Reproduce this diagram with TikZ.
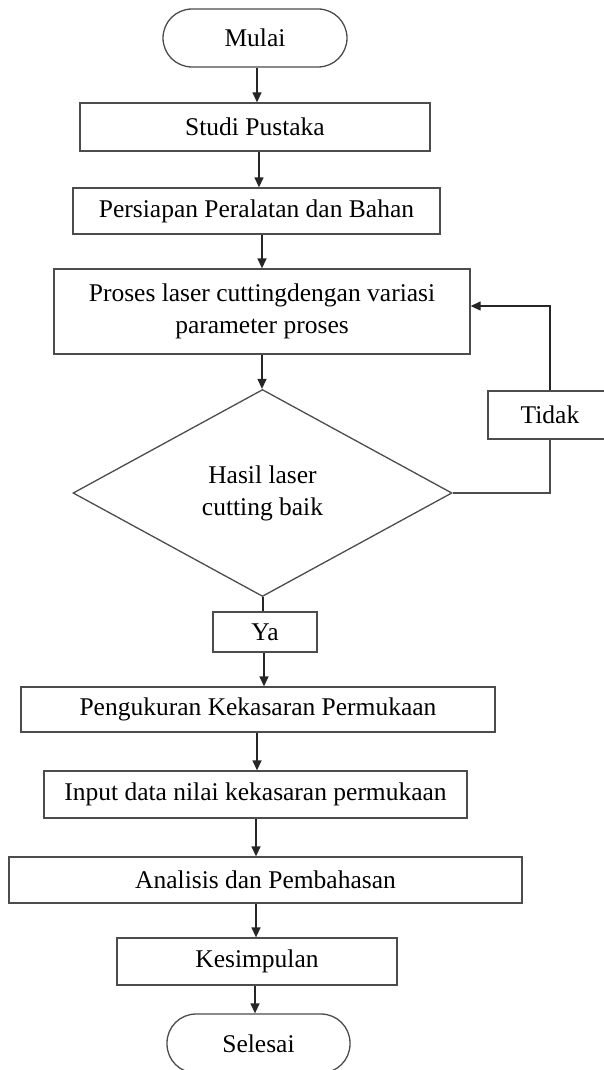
\documentclass[tikz,border=0pt]{standalone}
\usepackage{fontspec}
\setmainfont{Liberation Serif}
\usetikzlibrary{shapes.geometric,arrows.meta}
\tikzstyle{boite}=[rectangle, draw=black!70, line width=1.3pt, fill=white, inner sep=0pt, align=center, font=\fontsize{25.5}{32}\selectfont]
\tikzstyle{terminal}=[boite, rounded corners=29pt]
\tikzstyle{choix}=[boite, diamond, rounded corners=0pt]
\tikzstyle{lien}=[line width=1.3pt, draw=black!85]
\newcommand{\fl}[3]{ \draw[lien,->] ([xshift=#1pt]#2.south) -- ([xshift=#1pt]#2.south |- #3.north); }

\begin{document}
\begin{tikzpicture}[x=1pt,y=-1pt,>={Triangle[length=10pt,width=9pt]}]

 \useasboundingbox (0,0) rectangle (603,1070);

 \node[terminal,minimum width=184pt,minimum height=58pt] (mulai) at (255,38) {Mulai};
 \node[boite,minimum width=350pt,minimum height=48pt] (studi) at (255,127) {Studi Pustaka};
 \node[boite,minimum width=367pt,minimum height=46pt] (persiapan) at (256.5,211) {Persiapan Peralatan dan Bahan};
 \node[boite,minimum width=416pt,minimum height=85pt] (proses) at (262,311.5) {Proses laser cuttingdengan variasi\\parameter proses};
 \node[choix,minimum width=379pt,minimum height=207pt] (hasil) at (262.5,493) {Hasil laser\\cutting baik};
 \node[boite,minimum width=124pt,minimum height=48pt] (tidak) at (550,415) {Tidak};
 \node[boite,minimum width=104pt,minimum height=40pt] (ya) at (265,632) {Ya};
 \node[boite,minimum width=474pt,minimum height=45pt] (ukur) at (258,709.5) {Pengukuran Kekasaran Permukaan};
 \node[boite,minimum width=423pt,minimum height=47pt] (input) at (255.5,794.5) {Input data nilai kekasaran permukaan};
 \node[boite,minimum width=513pt,minimum height=46pt] (analisis) at (265.5,880) {Analisis dan Pembahasan};
 \node[boite,minimum width=280pt,minimum height=47pt] (kesimpulan) at (257,961.5) {Kesimpulan};
 \node[terminal,minimum width=183pt,minimum height=59pt] (selesai) at (258.5,1043.5) {Selesai};

 \fl{2}{mulai}{studi}
 \fl{4}{studi}{persiapan}
 \fl{5.5}{persiapan}{proses}
 \fl{0}{proses}{hasil}
 \draw[lien] ([xshift=0.5pt]hasil.south) -- ([xshift=0.5pt]hasil.south |- ya.north);
 \fl{-1}{ya}{ukur}
 \fl{-1}{ukur}{input}
 \fl{0.5}{input}{analisis}
 \fl{-9.5}{analisis}{kesimpulan}
 \fl{-2}{kesimpulan}{selesai}

 % retour si tidak
 \draw[lien,draw=black!70] (hasil.east) -- (hasil.east -| tidak.south) -- (tidak.south);
 \draw[lien,->] (tidak.north) |- ([yshift=5.5pt]proses.east);

\end{tikzpicture}
\end{document}
